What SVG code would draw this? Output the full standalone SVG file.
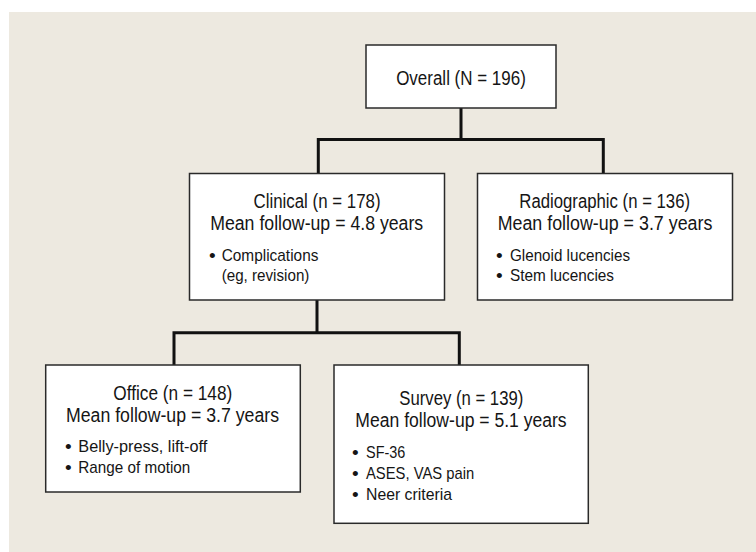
<svg xmlns="http://www.w3.org/2000/svg" width="756" height="552" viewBox="0 0 756 552">
<style>
.panel{fill:#EDE9E0}
.box{fill:#ffffff;stroke:#2a2a2a;stroke-width:1.5}
.conn{fill:none;stroke:#111111;stroke-width:3}
.t{font-family:"Liberation Sans",Arial,sans-serif;fill:#151515}
.h{font-size:20px;text-anchor:middle}
.b{font-size:17px}
.d{font-size:19px;text-anchor:middle}
</style>
<rect x="0" y="0" width="756" height="552" fill="#ffffff"/>
<rect class="panel" x="9" y="12" width="747" height="540"/>
<g id="connectors">
<path class="conn" d="M461,108 V139.5 M318.3,173 V139.5 H603.3 V173"/>
<path class="conn" d="M317,300 V332.7 M174,365 V332.7 H459.3 V365"/>
</g>
<g id="overall">
<rect class="box" x="366" y="45" width="190" height="63"/>
<text class="t h" x="461" y="85" textLength="129.7" lengthAdjust="spacingAndGlyphs">Overall (N = 196)</text>
</g>
<g id="clinical">
<rect class="box" x="189.5" y="173.5" width="255" height="126.5"/>
<text class="t h" x="317" y="208" textLength="127" lengthAdjust="spacingAndGlyphs">Clinical (n = 178)</text>
<text class="t h" x="316.7" y="230" textLength="213" lengthAdjust="spacingAndGlyphs">Mean follow-up = 4.8 years</text>
<text class="t d" x="212.3" y="261.5">•</text>
<text class="t b" x="221.7" y="260.7" textLength="96.7" lengthAdjust="spacingAndGlyphs">Complications</text>
<text class="t b" x="221.7" y="280.7" textLength="87.7" lengthAdjust="spacingAndGlyphs">(eg, revision)</text>
</g>
<g id="radiographic">
<rect class="box" x="477.5" y="173.5" width="255" height="126.5"/>
<text class="t h" x="604.7" y="208" textLength="170.7" lengthAdjust="spacingAndGlyphs">Radiographic (n = 136)</text>
<text class="t h" x="605" y="230" textLength="214.7" lengthAdjust="spacingAndGlyphs">Mean follow-up = 3.7 years</text>
<text class="t d" x="499.3" y="261.5">•</text>
<text class="t b" x="510" y="260.7" textLength="120" lengthAdjust="spacingAndGlyphs">Glenoid lucencies</text>
<text class="t d" x="499.3" y="281.5">•</text>
<text class="t b" x="510" y="280.7" textLength="104" lengthAdjust="spacingAndGlyphs">Stem lucencies</text>
</g>
<g id="office">
<rect class="box" x="45.7" y="365" width="254.6" height="127"/>
<text class="t h" x="172.8" y="400" textLength="119" lengthAdjust="spacingAndGlyphs">Office (n = 148)</text>
<text class="t h" x="172.5" y="421.7" textLength="213" lengthAdjust="spacingAndGlyphs">Mean follow-up = 3.7 years</text>
<text class="t d" x="68.3" y="452.5">•</text>
<text class="t b" x="78.3" y="451.7" textLength="129" lengthAdjust="spacingAndGlyphs">Belly-press, lift-off</text>
<text class="t d" x="68.3" y="473.5">•</text>
<text class="t b" x="78.3" y="472.7" textLength="112" lengthAdjust="spacingAndGlyphs">Range of motion</text>
</g>
<g id="survey">
<rect class="box" x="334" y="365" width="254.3" height="158.3"/>
<text class="t h" x="461.3" y="405.3" textLength="124" lengthAdjust="spacingAndGlyphs">Survey (n = 139)</text>
<text class="t h" x="461" y="427.3" textLength="211.3" lengthAdjust="spacingAndGlyphs">Mean follow-up = 5.1 years</text>
<text class="t d" x="355.3" y="458.5">•</text>
<text class="t b" x="366" y="457.7" textLength="39.3" lengthAdjust="spacingAndGlyphs">SF-36</text>
<text class="t d" x="355.3" y="479.5">•</text>
<text class="t b" x="366" y="478.7" textLength="108.3" lengthAdjust="spacingAndGlyphs">ASES, VAS pain</text>
<text class="t d" x="355.3" y="500.8">•</text>
<text class="t b" x="366" y="500" textLength="86" lengthAdjust="spacingAndGlyphs">Neer criteria</text>
</g>
</svg>
